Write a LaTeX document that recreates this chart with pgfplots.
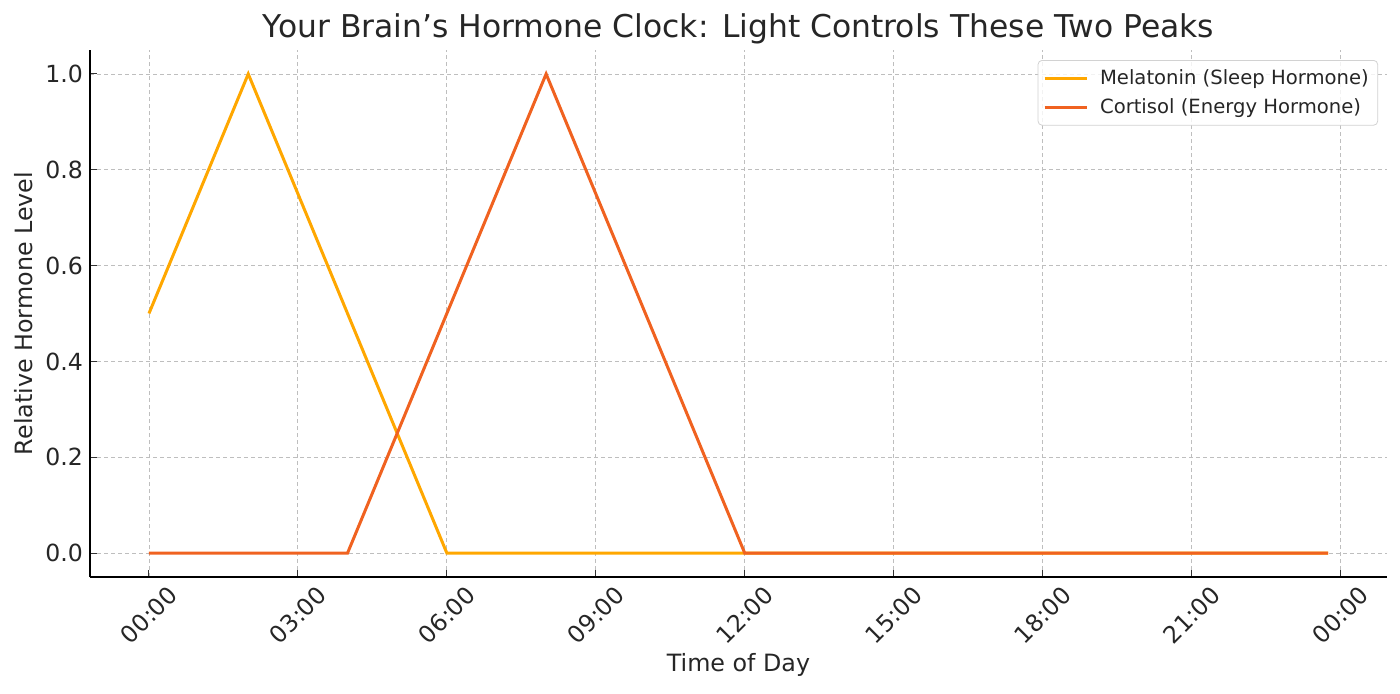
\documentclass[border=0pt]{standalone}
\usepackage{pgfplots}
\pgfplotsset{compat=1.18}
\usepackage{fontspec}
\setmainfont{DejaVu Sans}
\definecolor{mel}{RGB}{255,167,0}
\definecolor{cor}{RGB}{240,98,32}
\definecolor{gridc}{RGB}{190,190,190}
\begin{document}
\begin{tikzpicture}
\begin{axis}[
  at={(0,0)}, anchor=south west,
  scale only axis, width=648.5pt, height=263.5pt,
  xmin=-1.1875, xmax=24.9375, ymin=-0.05, ymax=1.05,
  axis lines*=left,
  axis line style={black, line width=0.6pt},
  xtick={0,3,6,9,12,15,18,21,24},
  xticklabels={00:00,03:00,06:00,09:00,12:00,15:00,18:00,21:00,00:00},
  ytick={0,0.2,0.4,0.6,0.8,1.0},
  yticklabel style={/pgf/number format/.cd, fixed, fixed zerofill, precision=1, assume math mode=true},
  tick label style={font=\fontsize{11.8}{13}\selectfont, black!85},
  xticklabel style={anchor=center, yshift=-19pt, rotate=45},
  grid=major,
  major grid style={dash pattern=on 2pt off 1.5pt, gridc, line width=0.4pt},
  tick align=inside, major tick length=3.5pt,
  tick style={black!80, line width=0.5pt},
  title={Your Brain’s Hormone Clock: Light Controls These Two Peaks},
  title style={at={(axis description cs:0.5,1.017)}, anchor=center, font=\fontsize{15.7}{18}\selectfont, black!85},
  xlabel={Time of Day},
  ylabel={Relative Hormone Level},
  xlabel style={at={(axis description cs:0.5,-0.167)}, anchor=center, font=\fontsize{11.9}{13}\selectfont, black!85},
  ylabel style={at={(axis description cs:-0.0509,0.5)}, anchor=center, font=\fontsize{11.9}{13}\selectfont, black!85},
  legend style={at={(axis description cs:0.9931,0.981)}, anchor=north east,
    draw=gray!35, rounded corners=2pt, fill=white, fill opacity=0.8, text opacity=1,
    font=\fontsize{9.8}{11}\selectfont, text=black!85, row sep=1.5pt, inner sep=2.5pt},
  legend cell align=left,
  legend image code/.code={\draw[#1] (0pt,0pt) -- (21pt,0pt); \path (25pt,0pt);},
]
\addplot[mel, line width=1.5pt] coordinates {(0,0.5) (2,1.0) (4,0.5) (6,0) (23.75,0)};
\addlegendentry{Melatonin (Sleep Hormone)}
\addplot[cor, line width=1.5pt] coordinates {(0,0) (4,0) (8,1.0) (12,0) (23.75,0)};
\addlegendentry{Cortisol (Energy Hormone)}
\end{axis}
\pgfresetboundingbox
\path (-45pt,-58pt) rectangle (655pt,288.5pt);
\end{tikzpicture}
\end{document}
